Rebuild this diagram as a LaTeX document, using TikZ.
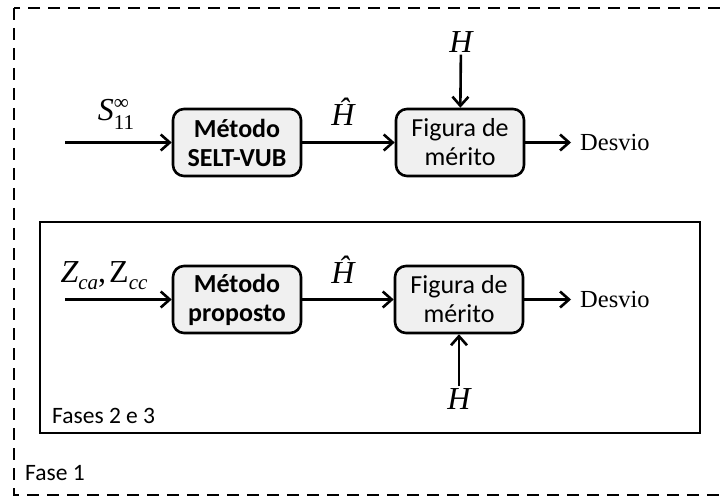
\documentclass[tikz,border=0pt]{standalone}
\usepackage{fontspec}
\setmainfont{Carlito}
\newfontfamily\tms{Liberation Serif}
\usetikzlibrary{arrows.meta}

\tikzset{
  blockbox/.style={draw, line width=2.6pt, rounded corners=11pt, fill=black!6,
    minimum width=128pt, minimum height=67pt, inner sep=0pt, align=center,
    font=\fontsize{26}{29}\selectfont},
  sig/.style={line width=2.6pt, -{Straight Barb[length=9pt,width=16pt,line width=2.6pt]}},
  mlabel/.style={inner sep=2pt, font=\fontsize{32}{32}\selectfont\tms\itshape},
  outlabel/.style={anchor=west, inner sep=9pt, font=\fontsize{24.5}{24.5}\selectfont\tms},
  phase/.style={anchor=base west, inner sep=0pt, font=\fontsize{23.5}{23.5}\selectfont}
}

\begin{document}
\begin{tikzpicture}[x=1pt, y=-1pt]
  \useasboundingbox (0,0) rectangle (720,497);
  % frames
  \draw [line width=2.6pt, dash pattern=on 12pt off 8pt] (14,8) rectangle (740,495);
  \draw [line width=2.6pt] (40,222) rectangle (700,433);
  \node at (25,480) [phase] (fase1) {Fase 1};
  \node at (52,423) [phase] (fase23) {Fases 2 e 3};

  % fase 1
  \node [blockbox] (selt) at (237,142.5) {\bfseries Método\\\bfseries SELT-VUB};
  \node [blockbox] (merit1) at (460,142.5) {Figura de\\mérito};
  \coordinate (s11) at (65,142.5);
  \node [mlabel] at (116,114) (s11lab) {S\raisebox{11pt}{\rlap{\fontsize{21}{21}\selectfont\upshape ∞}}\raisebox{-9pt}{\fontsize{21}{21}\selectfont\upshape 11}};
  \node [mlabel] at (343,112) (hhat1) {Ĥ};
  \node [mlabel] at (461,42) (h1) {H};
  \node [outlabel] at (571,142.5) (dev1) {Desvio};
  \draw [sig] (s11) -- (selt);
  \draw [sig] (selt) -- (merit1);
  \draw [sig] (h1) -- (merit1);
  \draw [sig] (merit1) -- (dev1);

  % fases 2 e 3
  \node [blockbox] (prop) at (237,299.5) {\bfseries Método\\\bfseries proposto};
  \node [blockbox] (merit2) at (459,299.5) {Figura de\\mérito};
  \coordinate (zin) at (65,299.5);
  \node [mlabel] at (104,276) (zlab) {Z\raisebox{-7pt}{\fontsize{21}{21}\selectfont ca}\upshape,\kern3pt Z\raisebox{-7pt}{\fontsize{21}{21}\selectfont\itshape cc}};
  \node [mlabel] at (343,270) (hhat2) {Ĥ};
  \node [mlabel] at (459,399) (h2) {H};
  \node [outlabel] at (571,299.5) (dev2) {Desvio};
  \draw [sig] (zin) -- (prop);
  \draw [sig] (prop) -- (merit2);
  \draw [sig] (h2) -- (merit2);
  \draw [sig] (merit2) -- (dev2);
\end{tikzpicture}
\end{document}
